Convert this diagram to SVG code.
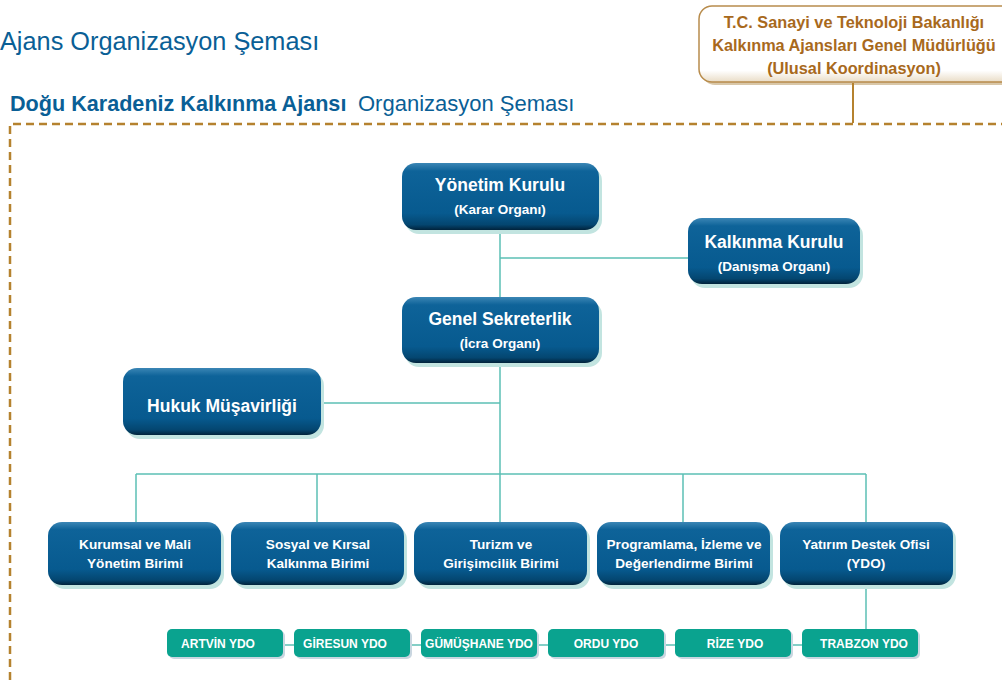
<svg xmlns="http://www.w3.org/2000/svg" width="1002" height="680" viewBox="0 0 1002 680">
<defs>
<linearGradient id="gBlue" x1="0" y1="0" x2="0" y2="1">
<stop offset="0" stop-color="#3b86b5"/>
<stop offset="0.12" stop-color="#0e6399"/>
<stop offset="0.75" stop-color="#075a8f"/>
<stop offset="0.92" stop-color="#044670"/>
<stop offset="1" stop-color="#01233b"/>
</linearGradient>
<linearGradient id="gTop" x1="0" y1="0" x2="0" y2="1">
<stop offset="0" stop-color="#ffffff"/>
<stop offset="0.85" stop-color="#ffffff"/>
<stop offset="1" stop-color="#e9dcc6"/>
</linearGradient>
<style>
.title{font-family:"Liberation Sans",Arial,sans-serif;fill:#0a5f96}
.nt{font-family:"Liberation Sans",Arial,sans-serif;font-weight:bold;fill:#ffffff;text-anchor:middle}
.big{font-size:17.5px}
.sub{font-size:13.5px}
.unit{font-size:13.6px}
.ydo{font-size:12px}
.shadow{fill:#c2e4e0}
.node{fill:url(#gBlue)}
.yshadow{fill:#c9d6e0}
.ybox{fill:#0aa38f}
.conn{stroke:#5cc0b5;stroke-width:1.5;fill:none}
.brown{font-family:"Liberation Sans",Arial,sans-serif;font-weight:bold;font-size:16.3px;fill:#a8691c;text-anchor:middle}
</style>
</defs>
<rect width="1002" height="680" fill="#ffffff"/>

<text class="title" x="0" y="50" font-size="25.3">Ajans Organizasyon Şeması</text>
<text class="title" x="10" y="111" font-size="21.6" font-weight="bold">Doğu Karadeniz Kalkınma Ajansı</text>
<text class="title" x="358" y="111" font-size="22">Organizasyon Şeması</text>

<path d="M10 680 V124 H1002" fill="none" stroke="#b5822f" stroke-width="2.5" stroke-dasharray="8 5"/>

<g id="bakanlik">
<rect x="702" y="9" width="320" height="76" rx="13" fill="#d9c7a8"/>
<rect x="699" y="6" width="320" height="76" rx="13" fill="url(#gTop)" stroke="#b88c4c" stroke-width="1.5"/>
<text class="brown" x="854" y="28">T.C. Sanayi ve Teknoloji Bakanlığı</text>
<text class="brown" x="854" y="51">Kalkınma Ajansları Genel Müdürlüğü</text>
<text class="brown" x="854" y="74">(Ulusal Koordinasyon)</text>
</g>

<g id="connectors">
<line x1="853" y1="83" x2="853" y2="123" stroke="#b5822f" stroke-width="2"/>
<path class="conn" d="M500 230 V474 M500 258 H688 M321 403 H500 M136 474 H866 M136 474 V522 M317 474 V522 M500 474 V522 M683 474 V522 M866 474 V522 M866 585 V629"/>
<path class="conn" d="M283 645 H294 M410 645 H421 M537 645 H548 M664 645 H675 M791 645 H802"/>
</g>

<g id="yonetim">
<rect class="shadow" x="405" y="167" width="197" height="67" rx="14"/>
<rect class="node" x="402" y="163" width="197" height="67" rx="14"/>
<text class="nt big" x="500" y="191">Yönetim Kurulu</text>
<text class="nt sub" x="500" y="214">(Karar Organı)</text>
</g>

<g id="kalkinma">
<rect class="shadow" x="691" y="222" width="172" height="66" rx="14"/>
<rect class="node" x="688" y="218" width="172" height="66" rx="14"/>
<text class="nt big" x="774" y="248">Kalkınma Kurulu</text>
<text class="nt sub" x="774" y="271">(Danışma Organı)</text>
</g>

<g id="genel">
<rect class="shadow" x="405" y="301" width="197" height="66" rx="14"/>
<rect class="node" x="402" y="297" width="197" height="66" rx="14"/>
<text class="nt big" x="500" y="325">Genel Sekreterlik</text>
<text class="nt sub" x="500" y="348">(İcra Organı)</text>
</g>

<g id="hukuk">
<rect class="shadow" x="126" y="372" width="198" height="67" rx="14"/>
<rect class="node" x="123" y="368" width="198" height="67" rx="14"/>
<text class="nt big" x="222" y="412">Hukuk Müşavirliği</text>
</g>

<g id="kurumsal">
<rect class="shadow" x="51" y="526" width="173" height="63" rx="14"/>
<rect class="node" x="48" y="522" width="173" height="63" rx="14"/>
<text class="nt unit" x="135" y="549">Kurumsal ve Mali</text>
<text class="nt unit" x="135" y="568">Yönetim Birimi</text>
</g>

<g id="sosyal">
<rect class="shadow" x="234" y="526" width="173" height="63" rx="14"/>
<rect class="node" x="231" y="522" width="173" height="63" rx="14"/>
<text class="nt unit" x="318" y="549">Sosyal ve Kırsal</text>
<text class="nt unit" x="318" y="568">Kalkınma Birimi</text>
</g>

<g id="turizm">
<rect class="shadow" x="417" y="526" width="173" height="63" rx="14"/>
<rect class="node" x="414" y="522" width="173" height="63" rx="14"/>
<text class="nt unit" x="501" y="549">Turizm ve</text>
<text class="nt unit" x="501" y="568">Girişimcilik Birimi</text>
</g>

<g id="programlama">
<rect class="shadow" x="600" y="526" width="173" height="63" rx="14"/>
<rect class="node" x="597" y="522" width="173" height="63" rx="14"/>
<text class="nt unit" x="684" y="549">Programlama, İzleme ve</text>
<text class="nt unit" x="684" y="568">Değerlendirme Birimi</text>
</g>

<g id="yatirim">
<rect class="shadow" x="783" y="526" width="173" height="63" rx="14"/>
<rect class="node" x="780" y="522" width="173" height="63" rx="14"/>
<text class="nt unit" x="866" y="549">Yatırım Destek Ofisi</text>
<text class="nt unit" x="866" y="568">(YDO)</text>
</g>

<g id="artvin">
<rect class="yshadow" x="169" y="631" width="116" height="28" rx="5"/>
<rect class="ybox" x="167" y="629" width="116" height="28" rx="5"/>
<text class="nt ydo" x="218" y="648">ARTVİN YDO</text>
</g>
<g id="giresun">
<rect class="yshadow" x="296" y="631" width="116" height="28" rx="5"/>
<rect class="ybox" x="294" y="629" width="116" height="28" rx="5"/>
<text class="nt ydo" x="345" y="648">GİRESUN YDO</text>
</g>
<g id="gumushane">
<rect class="yshadow" x="423" y="631" width="116" height="28" rx="5"/>
<rect class="ybox" x="421" y="629" width="116" height="28" rx="5"/>
<text class="nt ydo" x="479" y="648">GÜMÜŞHANE YDO</text>
</g>
<g id="ordu">
<rect class="yshadow" x="550" y="631" width="116" height="28" rx="5"/>
<rect class="ybox" x="548" y="629" width="116" height="28" rx="5"/>
<text class="nt ydo" x="606" y="648">ORDU YDO</text>
</g>
<g id="rize">
<rect class="yshadow" x="677" y="631" width="116" height="28" rx="5"/>
<rect class="ybox" x="675" y="629" width="116" height="28" rx="5"/>
<text class="nt ydo" x="735" y="648">RİZE YDO</text>
</g>
<g id="trabzon">
<rect class="yshadow" x="804" y="631" width="116" height="28" rx="5"/>
<rect class="ybox" x="802" y="629" width="116" height="28" rx="5"/>
<text class="nt ydo" x="864" y="648">TRABZON YDO</text>
</g>
</svg>
